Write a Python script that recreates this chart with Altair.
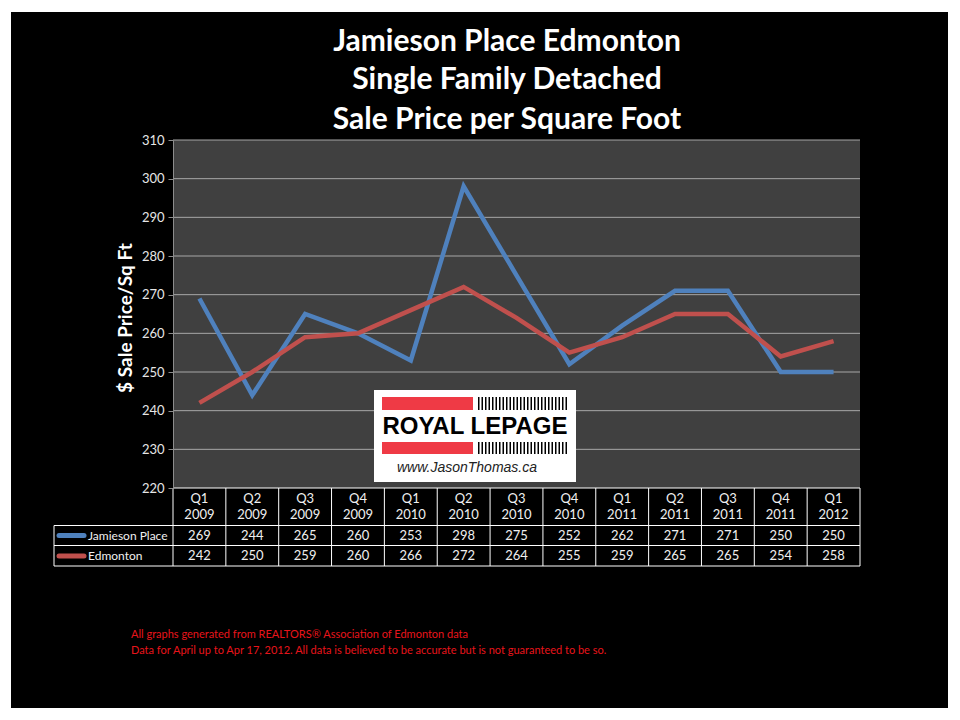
import altair as alt
import pandas as pd

quarters = ["Q1", "Q2", "Q3", "Q4", "Q1", "Q2", "Q3", "Q4", "Q1", "Q2", "Q3", "Q4", "Q1"]
years = ["2009", "2009", "2009", "2009", "2010", "2010", "2010", "2010",
         "2011", "2011", "2011", "2011", "2012"]
jamieson = [269, 244, 265, 260, 253, 298, 275, 252, 262, 271, 271, 250, 250]
edmonton = [242, 250, 259, 260, 266, 272, 264, 255, 259, 265, 265, 254, 258]
series_names = ["Jamieson Place", "Edmonton"]
series_colors = ["#4F81BD", "#C0504D"]
grid_values = [230, 240, 250, 260, 270, 280, 290, 300, 310]
axis_values = [220, 230, 240, 250, 260, 270, 280, 290, 300, 310]
title_lines = ["Jamieson Place Edmonton", "Single Family Detached", "Sale Price per Square Foot"]
footer_lines = ["All graphs generated from REALTORS\u00ae Association of Edmonton data",
                "Data for April up to Apr 17, 2012.   All data is believed to be accurate but is not guaranteed to be so."]

W, H = 687, 348
FONT = "Lato"

n = len(quarters)
cats = pd.DataFrame({"idx": list(range(n)), "q": quarters, "yr": years,
                     "jp": [str(v) for v in jamieson], "ed": [str(v) for v in edmonton]})
long = pd.DataFrame({
    "idx": list(range(n)) * 2,
    "series": [series_names[0]] * n + [series_names[1]] * n,
    "value": jamieson + edmonton,
})
borders = pd.DataFrame({"b": [i - 0.5 for i in range(n + 1)]})
grid = pd.DataFrame({"v": grid_values})
one = pd.DataFrame({"a": [0]})

xs = alt.Scale(domain=[-0.5, n - 0.5], nice=False, zero=False)
ys = alt.Scale(domain=[220, 310], nice=False, zero=False)
cs = alt.Scale(domain=series_names, range=series_colors)
yaxis = alt.Axis(
    values=axis_values, grid=False, labelOverlap=False, labelFlush=False,
    domainColor="#8c8c8c", tickColor="#8c8c8c", tickSize=5,
    labelColor="#e6e6e6", labelFont=FONT, labelFontSize=13, labelPadding=4,
    title=None, zindex=1)

bg = alt.Chart(one).mark_rect(color="black").encode(
    x=alt.value(-162), x2=alt.value(775), y=alt.value(-128), y2=alt.value(568))
plotbg = alt.Chart(one).mark_rect(color="#404040").encode(
    x=alt.value(0), x2=alt.value(W), y=alt.value(0), y2=alt.value(H))

gridlines = alt.Chart(grid).mark_rule(color="#a6a6a6", strokeWidth=1).encode(
    y=alt.Y("v:Q", scale=ys, axis=yaxis),
    x=alt.value(0), x2=alt.value(W))

# logo
logo_box = alt.Chart(one).mark_rect(color="white").encode(
    x=alt.value(201), x2=alt.value(403), y=alt.value(250), y2=alt.value(342))
red1 = alt.Chart(one).mark_rect(color="#EF3A45").encode(
    x=alt.value(209), x2=alt.value(300), y=alt.value(257), y2=alt.value(270))
red2 = alt.Chart(one).mark_rect(color="#EF3A45").encode(
    x=alt.value(209), x2=alt.value(300), y=alt.value(302), y2=alt.value(314))
bar1 = alt.Chart(one).mark_rule(color="black", strokeWidth=13, strokeDash=[1.5, 2]).encode(
    x=alt.value(305), x2=alt.value(396), y=alt.value(263.5))
bar2 = alt.Chart(one).mark_rule(color="black", strokeWidth=12, strokeDash=[1.5, 2]).encode(
    x=alt.value(305), x2=alt.value(396), y=alt.value(308))
logo_txt = alt.Chart(one).mark_text(text="ROYAL LEPAGE", font="Liberation Sans", fontWeight="bold",
                                     fontSize=24, color="black", baseline="middle", align="center").encode(
    x=alt.value(302), y=alt.value(287))
url_txt = alt.Chart(one).mark_text(text="www.JasonThomas.ca", font="Liberation Sans", fontStyle="italic",
                                    fontSize=14, color="#222222", baseline="middle", align="center").encode(
    x=alt.value(294), y=alt.value(328))

lines = alt.Chart(long).mark_line(strokeWidth=4.5).encode(
    x=alt.X("idx:Q", scale=xs, axis=None),
    y=alt.Y("value:Q", scale=ys, axis=yaxis),
    color=alt.Color("series:N", scale=cs, legend=None),
    detail="series:N")

# table
vrules = alt.Chart(borders).mark_rule(color="white", strokeWidth=1).encode(
    x=alt.X("b:Q", scale=xs), y=alt.value(H), y2=alt.value(426))
lrule = alt.Chart(one).mark_rule(color="white", strokeWidth=1).encode(
    x=alt.value(-119), y=alt.value(385.5), y2=alt.value(426))
hr0 = alt.Chart(one).mark_rule(color="white", strokeWidth=1).encode(
    x=alt.value(0), x2=alt.value(W), y=alt.value(H))
hr1 = alt.Chart(one).mark_rule(color="white", strokeWidth=1).encode(
    x=alt.value(-119), x2=alt.value(W), y=alt.value(385.5))
hr2 = alt.Chart(one).mark_rule(color="white", strokeWidth=1).encode(
    x=alt.value(-119), x2=alt.value(W), y=alt.value(405.5))
hr3 = alt.Chart(one).mark_rule(color="white", strokeWidth=1).encode(
    x=alt.value(-119), x2=alt.value(W), y=alt.value(426))

tkw = dict(font=FONT, fontSize=13, color="#f0f0f0", baseline="middle", align="center")
hq = alt.Chart(cats).mark_text(**tkw).encode(x=alt.X("idx:Q", scale=xs), y=alt.value(359), text="q:N")
hy = alt.Chart(cats).mark_text(**tkw).encode(x=alt.X("idx:Q", scale=xs), y=alt.value(375), text="yr:N")
r1 = alt.Chart(cats).mark_text(**tkw).encode(x=alt.X("idx:Q", scale=xs), y=alt.value(395.5), text="jp:N")
r2 = alt.Chart(cats).mark_text(**tkw).encode(x=alt.X("idx:Q", scale=xs), y=alt.value(416), text="ed:N")

sw1 = alt.Chart(one).mark_rule(color=series_colors[0], strokeWidth=5, strokeCap="round").encode(
    x=alt.value(-114), x2=alt.value(-89), y=alt.value(395.5))
sw2 = alt.Chart(one).mark_rule(color=series_colors[1], strokeWidth=5, strokeCap="round").encode(
    x=alt.value(-114), x2=alt.value(-89), y=alt.value(416))
lkw = dict(font=FONT, fontSize=12, color="#f0f0f0", baseline="middle", align="left")
lt1 = alt.Chart(one).mark_text(text=series_names[0], **lkw).encode(x=alt.value(-85), y=alt.value(395.5))
lt2 = alt.Chart(one).mark_text(text=series_names[1], **lkw).encode(x=alt.value(-85), y=alt.value(416))

# titles
tl = []
for t, yy in zip(title_lines, [-98, -60, -20]):
    tl.append(alt.Chart(one).mark_text(text=t, font=FONT, fontWeight="bold", fontSize=30, color="white",
                                       baseline="middle", align="center").encode(
        x=alt.value(334), y=alt.value(yy)))
ytitle = alt.Chart(one).mark_text(text="$ Sale Price/Sq Ft", font=FONT, fontWeight="bold", fontSize=19,
                                   color="white", angle=270, baseline="middle", align="center").encode(
    x=alt.value(-47), y=alt.value(178))

fl = []
for t, yy in zip(footer_lines, [495, 511]):
    fl.append(alt.Chart(one).mark_text(text=t, font=FONT, fontSize=11, color="#e8141b",
                                       baseline="middle", align="left").encode(
        x=alt.value(-42), y=alt.value(yy)))

chart = alt.layer(
    bg, plotbg, gridlines, logo_box, red1, red2, bar1, bar2, logo_txt, url_txt,
    lines, vrules, lrule, hr0, hr1, hr2, hr3, hq, hy, r1, r2, sw1, sw2, lt1, lt2,
    *tl, ytitle, *fl
).properties(
    width=W, height=H,
    autosize=alt.AutoSizeParams(type="none"),
    padding={"left": 165, "top": 132, "right": 92, "bottom": 224},
    background="white",
).configure_view(stroke=None).configure_axisY(labelOverlap=False)

chart.save("out.html", embed_options={"renderer": "svg", "actions": False})
